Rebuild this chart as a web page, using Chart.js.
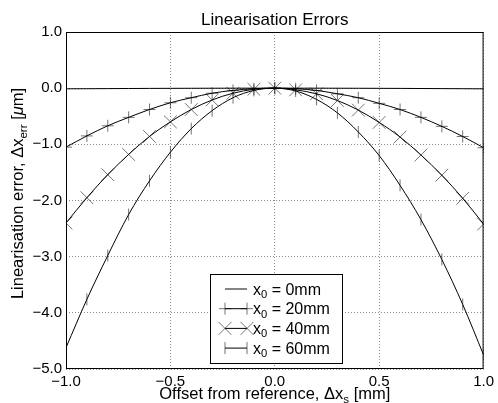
<!DOCTYPE html>
<html>
<head>
<meta charset="utf-8">
<script src="https://cdn.jsdelivr.net/npm/chart.js@4"></script>
<style>
  html, body { margin: 0; padding: 0; background: #fff; }
  #wrap { width: 498px; height: 403px; }
</style>
</head>
<body>
<div id="wrap"><canvas id="errChart" width="498" height="403"></canvas></div>
<script>
// offset from reference (mm)
const offsets = [-1.0, -0.9, -0.8, -0.7, -0.6, -0.5, -0.4, -0.3, -0.2, -0.1, 0.0,
                  0.1,  0.2,  0.3,  0.4,  0.5,  0.6,  0.7,  0.8,  0.9, 1.0];

// linearisation error (um)
const err0mm  = [-0.012, -0.010, -0.008, -0.006, -0.004, -0.003, -0.002, -0.001, 0, 0, 0,
                  0, 0, -0.001, -0.002, -0.003, -0.004, -0.006, -0.008, -0.010, -0.012];
const err20mm = [-1.05, -0.85, -0.67, -0.52, -0.38, -0.26, -0.17, -0.09, -0.04, -0.01, 0,
                 -0.01, -0.04, -0.10, -0.17, -0.27, -0.38, -0.52, -0.68, -0.86, -1.06];
const err40mm = [-2.40, -1.95, -1.54, -1.18, -0.86, -0.60, -0.38, -0.21, -0.09, -0.02, 0,
                 -0.03, -0.10, -0.22, -0.39, -0.61, -0.87, -1.19, -1.55, -1.96, -2.42];
const err60mm = [-4.62, -3.76, -2.98, -2.25, -1.65, -1.14, -0.72, -0.40, -0.17, -0.04, 0,
                 -0.05, -0.20, -0.44, -0.78, -1.20, -1.73, -2.34, -3.05, -3.85, -4.75];

const seriesNames = ['0mm', '20mm', '40mm', '60mm'];
const xTicks = [-1.0, -0.5, 0.0, 0.5, 1.0];
const yTicks = [1.0, 0.0, -1.0, -2.0, -3.0, -4.0, -5.0];

const FONT = '"Liberation Sans", Arial, sans-serif';
const markerColor = 'rgba(0,0,0,0.55)';

function pts(ys) {
    return offsets.map((x, i) => ({ x: x, y: ys[i] }));
}

function fmt(v) {
    const s = Math.abs(v).toFixed(1);
    return v < -1e-9 ? '\u2212' + s : s;
}

// draws text made of parts, some as subscripts / italics
function richText(ctx, parts, x, y, size, align) {
    const widths = parts.map(p => {
        ctx.font = (p.it ? 'italic ' : '') + (p.sub ? size * 0.7 : size) + 'px ' + FONT;
        return ctx.measureText(p.t).width;
    });
    const total = widths.reduce((a, b) => a + b, 0);
    let cx = align === 'center' ? x - total / 2 : x;
    ctx.textAlign = 'left';
    ctx.textBaseline = 'alphabetic';
    parts.forEach((p, i) => {
        ctx.font = (p.it ? 'italic ' : '') + (p.sub ? size * 0.7 : size) + 'px ' + FONT;
        ctx.fillText(p.t, cx, p.sub ? y + size * 0.22 : y);
        cx += widths[i];
    });
}

function marker(ctx, style, x, y) {
    ctx.beginPath();
    if (style === 'cross') {
        ctx.moveTo(x - 6, y); ctx.lineTo(x + 6, y);
        ctx.moveTo(x, y - 6); ctx.lineTo(x, y + 6);
    } else if (style === 'crossRot') {
        ctx.moveTo(x - 6.4, y - 6.4); ctx.lineTo(x + 6.4, y + 6.4);
        ctx.moveTo(x - 6.4, y + 6.4); ctx.lineTo(x + 6.4, y - 6.4);
    } else if (style === 'vline') {
        ctx.moveTo(x, y - 6); ctx.lineTo(x, y + 6);
    }
    ctx.stroke();
}

const decorations = {
    id: 'decorations',
    afterDraw(chart) {
        const ctx = chart.ctx;
        const a = chart.chartArea;
        ctx.save();
        // frame
        ctx.strokeStyle = '#000';
        ctx.lineWidth = 1;
        ctx.strokeRect(a.left + 0.5, a.top + 0.5, a.right - a.left - 1, a.bottom - a.top - 1);

        ctx.fillStyle = '#000';
        // title
        richText(ctx, [{ t: 'Linearisation Errors' }], (a.left + a.right) / 2, 25, 17, 'center');
        // x axis title
        richText(ctx, [
            { t: 'Offset from reference, \u0394x' }, { t: 's', sub: true }, { t: ' [mm]' }
        ], (a.left + a.right) / 2, 399, 16.5, 'center');
        // y axis title
        ctx.save();
        ctx.translate(23, (a.top + a.bottom) / 2 - 7);
        ctx.rotate(-Math.PI / 2);
        richText(ctx, [
            { t: 'Linearisation error, \u0394x' }, { t: 'err', sub: true }, { t: ' [' },
            { t: '\u03bc', it: true }, { t: 'm]' }
        ], 0, 0, 16.5, 'center');
        ctx.restore();

        // legend
        const lx = 210, ly = 274, lw = 132, lh = 89;
        ctx.fillStyle = '#fff';
        ctx.fillRect(lx, ly, lw, lh);
        ctx.strokeStyle = '#000';
        ctx.strokeRect(lx + 0.5, ly + 0.5, lw, lh);
        const styles = [null, 'cross', 'crossRot', 'vline'];
        seriesNames.forEach((name, i) => {
            const ry = 289 + i * 19.7;
            ctx.strokeStyle = i === 0 ? '#666' : '#000';
            ctx.lineWidth = i === 0 ? 1.6 : 1;
            ctx.beginPath();
            ctx.moveTo(225, ry); ctx.lineTo(247, ry);
            ctx.stroke();
            if (styles[i]) {
                ctx.strokeStyle = markerColor;
                ctx.lineWidth = 1;
                marker(ctx, styles[i], 225, ry);
                marker(ctx, styles[i], 247, ry);
            }
            ctx.fillStyle = '#000';
            richText(ctx, [{ t: 'x' }, { t: '0', sub: true }, { t: ' = ' + name }], 253, ry + 5.5, 16, 'left');
        });
        ctx.restore();
    }
};

const lineStyle = {
    borderColor: '#000',
    borderWidth: 1,
    pointBorderColor: markerColor,
    pointBackgroundColor: 'rgba(0,0,0,0)',
    pointBorderWidth: 1,
    tension: 0.4,
    cubicInterpolationMode: 'monotone',
    fill: false
};

new Chart(document.getElementById('errChart'), {
    type: 'line',
    data: {
        datasets: [
            Object.assign({ label: seriesNames[0], data: pts(err0mm), pointRadius: 0 }, lineStyle),
            Object.assign({ label: seriesNames[1], data: pts(err20mm), pointStyle: 'cross', pointRadius: 6 }, lineStyle),
            Object.assign({ label: seriesNames[2], data: pts(err40mm), pointStyle: 'crossRot', pointRadius: 9 }, lineStyle),
            Object.assign({ label: seriesNames[3], data: pts(err60mm), pointStyle: 'line', pointRotation: 90, pointRadius: 6 }, lineStyle)
        ]
    },
    options: {
        responsive: false,
        animation: false,
        layout: { padding: { top: 32, right: 11, left: 0, bottom: 0 } },
        plugins: {
            legend: { display: false },
            title: { display: false },
            tooltip: { enabled: false }
        },
        scales: {
            x: {
                type: 'linear',
                min: -1, max: 1,
                afterFit(scale) { scale.height = 34; },
                afterBuildTicks(scale) { scale.ticks = xTicks.map(v => ({ value: v })); },
                ticks: {
                    color: '#000',
                    padding: 4,
                    maxRotation: 0,
                    font: { family: FONT, size: 15 },
                    callback: v => fmt(v)
                },
                grid: {
                    color: 'rgba(0,0,0,0.45)',
                    lineWidth: 1,
                    drawTicks: false
                },
                border: { display: false, dash: [1, 2] }
            },
            y: {
                type: 'linear',
                min: -5, max: 1,
                afterFit(scale) { scale.width = 66; },
                afterBuildTicks(scale) { scale.ticks = yTicks.map(v => ({ value: v })); },
                ticks: {
                    color: '#000',
                    padding: 4,
                    font: { family: FONT, size: 15 },
                    callback: v => fmt(v)
                },
                grid: {
                    color: 'rgba(0,0,0,0.45)',
                    lineWidth: 1,
                    drawTicks: false
                },
                border: { display: false, dash: [1, 2] }
            }
        }
    },
    plugins: [decorations]
});
</script>
</body>
</html>
